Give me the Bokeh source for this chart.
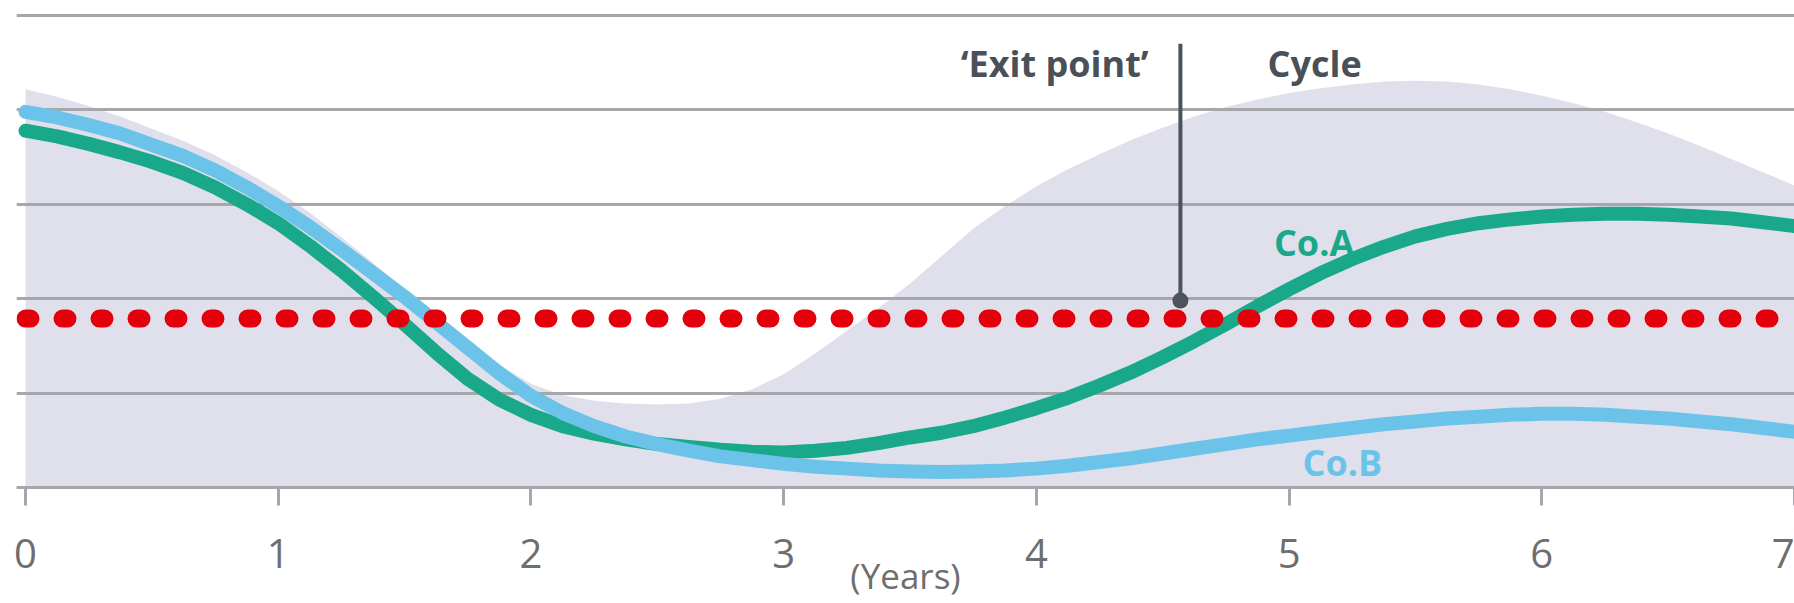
from bokeh.plotting import figure
from bokeh.models import Range1d, FixedTicker, Grid
from bokeh.core.properties import value
from bokeh.embed import file_html
from bokeh.resources import INLINE

# ---- data -------------------------------------------------------------
years = [0.0, 0.125, 0.25, 0.375, 0.5, 0.625, 0.75, 0.875,
         1.0, 1.125, 1.25, 1.375, 1.5, 1.625, 1.75, 1.875,
         2.0, 2.125, 2.25, 2.375, 2.5, 2.625, 2.75, 2.875,
         3.0, 3.125, 3.25, 3.375, 3.5, 3.625, 3.75, 3.875,
         4.0, 4.125, 4.25, 4.375, 4.5, 4.625, 4.75, 4.875,
         5.0, 5.125, 5.25, 5.375, 5.5, 5.625, 5.75, 5.875,
         6.0, 6.125, 6.25, 6.375, 6.5, 6.625, 6.75, 6.875, 7.0]

# shaded business cycle
cycle = [4.22, 4.14, 4.04, 3.93, 3.80, 3.67, 3.52, 3.34,
         3.14, 2.91, 2.65, 2.38, 2.10, 1.82, 1.55, 1.30,
         1.10, 0.98, 0.92, 0.89, 0.88, 0.89, 0.94, 1.04,
         1.20, 1.42, 1.66, 1.90, 2.16, 2.45, 2.74, 2.98,
         3.19, 3.37, 3.53, 3.68, 3.81, 3.93, 4.03, 4.11,
         4.18, 4.23, 4.27, 4.30, 4.31, 4.30, 4.27, 4.22,
         4.15, 4.07, 3.98, 3.87, 3.75, 3.62, 3.48, 3.34, 3.20]

# company A
co_a = [3.78, 3.72, 3.64, 3.55, 3.45, 3.33, 3.18, 3.00,
        2.80, 2.56, 2.30, 2.02, 1.73, 1.43, 1.15, 0.93,
        0.77, 0.65, 0.57, 0.51, 0.46, 0.43, 0.40, 0.38,
        0.37, 0.39, 0.42, 0.47, 0.53, 0.58, 0.65, 0.74,
        0.84, 0.95, 1.08, 1.22, 1.38, 1.55, 1.73, 1.92,
        2.10, 2.27, 2.42, 2.55, 2.66, 2.74, 2.80, 2.84,
        2.87, 2.89, 2.90, 2.90, 2.89, 2.87, 2.85, 2.81, 2.77]

# company B
co_b = [3.98, 3.92, 3.84, 3.75, 3.63, 3.51, 3.36, 3.18,
        2.98, 2.76, 2.52, 2.27, 2.02, 1.75, 1.48, 1.21,
        0.97, 0.79, 0.65, 0.54, 0.46, 0.39, 0.33, 0.29,
        0.25, 0.22, 0.20, 0.18, 0.17, 0.165, 0.17, 0.18,
        0.20, 0.23, 0.27, 0.31, 0.36, 0.41, 0.46, 0.51,
        0.55, 0.59, 0.63, 0.67, 0.70, 0.73, 0.75, 0.77,
        0.78, 0.78, 0.77, 0.75, 0.73, 0.70, 0.67, 0.63, 0.59]

threshold = 1.79          # dotted red hurdle level
exit_year = 4.57          # 'Exit point' marker
exit_level = 1.98
exit_top = 4.70

x_ticks = [0, 1, 2, 3, 4, 5, 6, 7]
grid_levels = [1, 2, 3, 4, 5]

# ---- colours ----------------------------------------------------------
CYCLE_FILL = "#dfe0eb"
GREEN = "#19a98a"
BLUE = "#6cc3ea"
RED = "#e3000b"
DARK = "#4a5058"
GRID = "#a6a7aa"
TICK_TEXT = "#6e6e6e"

# x: year 0 sits 9px inside the frame, year 7 on its right edge
p = figure(width=1794, height=603, output_backend="svg", toolbar_location=None,
           x_range=Range1d(-9 / 252.7, 7.0),
           y_range=Range1d(0, 487 / 94.4),
           y_axis_location=None,
           min_border_left=16, min_border_right=0,
           min_border_top=0, min_border_bottom=116)
p.outline_line_color = None
p.background_fill_color = "white"
p.border_fill_color = "white"
p.xgrid.visible = False

grid = Grid(dimension=1, ticker=FixedTicker(ticks=grid_levels),
            grid_line_color=GRID, grid_line_width=3)
p.add_layout(grid)

# cycle area (drawn beneath the grid lines)
area = p.varea(x=years, y1=[0] * len(years), y2=cycle, fill_color=CYCLE_FILL)
area.level = "image"

# company lines
p.line(years, co_a, line_color=GREEN, line_width=14, line_join="round", line_cap="round")
p.line(years, co_b, line_color=BLUE, line_width=14, line_join="round", line_cap="round")

# dotted hurdle
p.line([0, 7], [threshold, threshold], line_color=RED, line_width=18,
       line_dash="5 32", line_cap="round")

# exit marker
p.segment(x0=[exit_year], y0=[exit_level], x1=[exit_year], y1=[exit_top],
          line_color="#4c535b", line_width=4)
p.scatter(x=[exit_year], y=[exit_level], size=16, fill_color="#4c535b",
          line_color=None)

font = value("Open Sans")
label_style = dict(text_baseline="alphabetic", text_font=font,
                   text_font_style="bold", text_font_size="36px")
p.text(x=[4.444], y=[4.49], text=["\u2018Exit point\u2019"], text_align="right",
       text_color=DARK, **label_style)
p.text(x=[4.915], y=[4.49], text=["Cycle"], text_align="left",
       text_color=DARK, **label_style)
p.text(x=[4.94], y=[2.60], text=["Co.A"], text_align="left",
       text_color=GREEN, **label_style)
p.text(x=[5.053], y=[0.27], text=["Co.B"], text_align="left",
       text_color=BLUE, **label_style)

# x axis
ax = p.xaxis[0]
ax.ticker = FixedTicker(ticks=x_ticks)
ax.axis_line_color = GRID
ax.axis_line_width = 3
ax.major_tick_line_color = GRID
ax.major_tick_line_width = 3
ax.major_tick_out = 18
ax.major_tick_in = 0
ax.minor_tick_line_color = None
ax.major_label_text_font = "Open Sans"
ax.major_label_text_font_size = "40px"
ax.major_label_text_color = TICK_TEXT
ax.major_label_standoff = 33
ax.axis_label = "(Years)"
ax.axis_label_text_font = "Open Sans"
ax.axis_label_text_font_style = "normal"
ax.axis_label_text_font_size = "35px"
ax.axis_label_text_color = TICK_TEXT
ax.axis_label_standoff = -19

open("out.html", "w").write(file_html(p, INLINE))
